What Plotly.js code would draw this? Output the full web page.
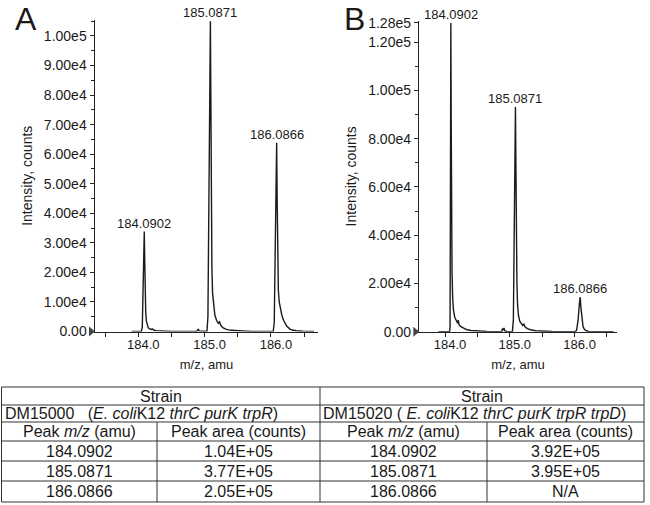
<!DOCTYPE html>
<html>
<head>
<meta charset="utf-8">
<script src="https://cdn.plot.ly/plotly-3.0.1.min.js"></script>
<style>html,body{margin:0;padding:0;background:#fff;}#chart{width:650px;height:505px;}</style>
</head>
<body>
<div id="chart"></div>
<script>
// ---------------- DATA ----------------
const peakMz = [184.0902, 185.0871, 186.0866];
const peakLabels = ['184.0902', '185.0871', '186.0866'];
const peakHeightA = [33800, 105000, 63900];
const peakHeightB = [128000, 93100, 14300];

// Panel A profile spectrum (m/z, intensity)
const mzA = [
  183.90, 184.045, 184.060, 184.072, 184.082, 184.0902, 184.097, 184.104, 184.112, 184.122,
  184.135, 184.150, 184.170, 184.195, 184.210, 184.230, 184.270, 184.350, 184.500, 184.700,
  184.880, 184.895, 184.905, 184.920, 184.990, 185.035, 185.050, 185.064, 185.077, 185.0871,
  185.094, 185.101, 185.110, 185.120, 185.135, 185.155, 185.180, 185.205, 185.225, 185.245,
  185.280, 185.330, 185.400, 185.500, 185.700, 185.900, 186.035, 186.050, 186.064, 186.077,
  186.0866, 186.094, 186.102, 186.112, 186.125, 186.140, 186.165, 186.190, 186.215, 186.240,
  186.260, 186.280, 186.320, 186.380, 186.480, 186.650
];
const intA = [
  0, 0, 1500, 12000, 26000, 33800, 24000, 13000, 6500, 3500,
  2000, 1300, 900, 700, 900, 500, 300, 150, 50, 0,
  0, 500, 700, 200, 0, 0, 5000, 40000, 85000, 105000,
  80000, 45000, 22000, 13000, 8500, 5500, 3800, 2800, 3300, 2000,
  1200, 700, 400, 200, 50, 0, 0, 3000, 25000, 52000,
  63900, 45000, 25000, 14000, 10000, 8000, 5500, 3800, 2600, 1800,
  1400, 900, 500, 250, 100, 0
];

// Panel B profile spectrum (m/z, intensity)
const mzB = [
  183.90, 184.070, 184.078, 184.081, 184.084, 184.0902, 184.095, 184.100, 184.108, 184.118,
  184.130, 184.150, 184.175, 184.195, 184.205, 184.215, 184.240, 184.280, 184.330, 184.400,
  184.500, 184.650, 184.800, 184.875, 184.885, 184.895, 184.910, 184.925, 184.960, 185.040,
  185.055, 185.068, 185.079, 185.0871, 185.094, 185.101, 185.110, 185.120, 185.135, 185.155,
  185.180, 185.200, 185.215, 185.235, 185.270, 185.320, 185.400, 185.500, 185.650, 185.850,
  186.000, 186.030, 186.055, 186.075, 186.0866, 186.098, 186.112, 186.130, 186.150, 186.180,
  186.220, 186.300, 186.600
];
const intB = [
  0, 0, 2000, 78500, 79000, 128000, 90000, 50000, 25000, 14000,
  9000, 6000, 4200, 3500, 4800, 3000, 2200, 1500, 900, 500,
  250, 100, 0, 0, 1300, 600, 1500, 300, 0, 0,
  5000, 40000, 75000, 93100, 70000, 40000, 20000, 11000, 6500, 4300,
  3000, 2600, 3300, 2000, 1300, 800, 400, 200, 80, 0,
  0, 500, 5000, 12000, 14300, 10000, 5000, 2200, 1000, 400,
  150, 0, 0
];

// Axis ticks
const xTickVals = [184, 185, 186];
const xTickText = ['184.0', '185.0', '186.0'];
const yTickValsA = [0, 10000, 20000, 30000, 40000, 50000, 60000, 70000, 80000, 90000, 100000];
const yTickTextA = ['0.00', '1.00e4', '2.00e4', '3.00e4', '4.00e4', '5.00e4', '6.00e4', '7.00e4', '8.00e4', '9.00e4', '1.00e5'];
const yTickValsB = [0, 20000, 40000, 60000, 80000, 100000, 120000, 128000];
const yTickTextB = ['0.00', '2.00e4', '4.00e4', '6.00e4', '8.00e4', '1.00e5', '1.20e5', '1.28e5'];

// Table
const tableStrainHeader = 'Strain';
const tableStrainA = 'DM15000\u00a0\u00a0\u00a0(<i>E. coli</i>K12 <i>thrC purK trpR</i>)';
const tableStrainB = 'DM15020 ( <i>E. coli</i>K12 <i>thrC purK trpR trpD</i>)';
const tableColHeaders = ['Peak <i>m/z</i> (amu)', 'Peak area (counts)'];
const tablePeakMz = ['184.0902', '185.0871', '186.0866'];
const tableAreaA = ['1.04E+05', '3.77E+05', '2.05E+05'];
const tableAreaB = ['3.92E+05', '3.95E+05', 'N/A'];

// ---------------- LAYOUT HELPERS ----------------
const W = 650, H = 505;
const px = x => x / W;
const py = y => 1 - y / H;
const FONT = 'Liberation Sans, Arial, Helvetica, sans-serif';
const INK = '#1a1a1a';

const xRangeA = [183.347, 186.71];
const xRangeB = [183.603, 186.65];

const traces = [
  {x: mzA, y: intA, type: 'scatter', mode: 'lines', line: {color: INK, width: 1.4}, xaxis: 'x', yaxis: 'y', hoverinfo: 'skip'},
  {x: mzB, y: intB, type: 'scatter', mode: 'lines', line: {color: INK, width: 1.4}, xaxis: 'x2', yaxis: 'y2', hoverinfo: 'skip'}
];

function xAxis(domain, range, anchor) {
  return {
    domain: domain, range: range, anchor: anchor,
    showline: true, linecolor: '#222', linewidth: 1.5, mirror: false,
    showgrid: false, zeroline: false,
    ticks: 'outside', ticklen: 4, tickwidth: 1, tickcolor: '#222',
    tickmode: 'array', tickvals: xTickVals, ticktext: xTickText,
    ticklabelshift: 5, ticklabelstandoff: -4,
    tickfont: {family: FONT, size: 13, color: INK},
    minor: {tickmode: 'linear', tick0: 184, dtick: 0.5, ticks: 'outside', ticklen: 4, tickcolor: '#222', showgrid: false},
    title: {text: 'm/z, amu', font: {family: FONT, size: 13, color: INK}, standoff: 9}
  };
}
function yAxis(domain, range, anchor, vals, texts, minorDtick) {
  return {
    domain: domain, range: range, anchor: anchor,
    showline: true, linecolor: '#222', linewidth: 1.5,
    showgrid: false, zeroline: false,
    ticks: 'outside', ticklen: 4, tickwidth: 1, tickcolor: '#222',
    tickmode: 'array', tickvals: vals, ticktext: texts,
    tickfont: {family: FONT, size: 14, color: INK},
    minor: {tickmode: 'linear', tick0: 0, dtick: minorDtick, ticks: 'outside', ticklen: 2.5, tickcolor: '#222', showgrid: false},
    title: {text: 'Intensity, counts', font: {family: FONT, size: 14, color: INK}, standoff: 8}
  };
}

const annotations = [];
// peak labels
peakMz.forEach((m, i) => {
  annotations.push({x: m, y: peakHeightA[i], xref: 'x', yref: 'y', text: peakLabels[i], showarrow: false,
    yanchor: 'bottom', xanchor: 'center', font: {family: FONT, size: 13, color: INK}, borderpad: 0});
  annotations.push({x: m, y: peakHeightB[i], xref: 'x2', yref: 'y2', text: peakLabels[i], showarrow: false,
    yanchor: 'bottom', xanchor: 'center', font: {family: FONT, size: 13, color: INK}, borderpad: 0});
});
// panel letters
annotations.push({x: px(26), y: 1, xref: 'paper', yref: 'paper', text: 'A', showarrow: false,
  font: {family: FONT, size: 32, color: INK}, xanchor: 'center', yanchor: 'top', borderpad: 0});
annotations.push({x: px(355), y: 1, xref: 'paper', yref: 'paper', text: 'B', showarrow: false,
  font: {family: FONT, size: 32, color: INK}, xanchor: 'center', yanchor: 'top', borderpad: 0});

// ---------------- TABLE ----------------
const colX = [1.5, 157, 320, 487, 644];     // vertical borders (px)
const rowY = [387, 405, 422, 441, 461, 481, 502]; // horizontal borders (px)
const TF = {family: FONT, size: 16, color: INK};
const shapes = [];
const lineStyle = {color: '#333', width: 1};
rowY.forEach(y => shapes.push({type: 'line', xref: 'paper', yref: 'paper', x0: px(colX[0]), x1: px(colX[4]), y0: py(y), y1: py(y), line: lineStyle}));
[colX[0], colX[2], colX[4]].forEach(x => shapes.push({type: 'line', xref: 'paper', yref: 'paper', x0: px(x), x1: px(x), y0: py(rowY[0]), y1: py(rowY[6]), line: lineStyle}));
[colX[1], colX[3]].forEach(x => shapes.push({type: 'line', xref: 'paper', yref: 'paper', x0: px(x), x1: px(x), y0: py(rowY[2]), y1: py(rowY[6]), line: lineStyle}));

function cell(text, x, y, anchor) {
  annotations.push({x: px(x), y: py(y), xref: 'paper', yref: 'paper', text: text, showarrow: false,
    xanchor: anchor || 'center', yanchor: 'middle', font: TF});
}
const mid = i => (rowY[i] + rowY[i + 1]) / 2;
cell(tableStrainHeader, (colX[0] + colX[2]) / 2, mid(0));
cell(tableStrainHeader, (colX[2] + colX[4]) / 2, mid(0));
cell(tableStrainA, colX[0] + 1, mid(1), 'left');
cell(tableStrainB, colX[2] + 1, mid(1), 'left');
cell(tableColHeaders[0], (colX[0] + colX[1]) / 2, mid(2));
cell(tableColHeaders[1], (colX[1] + colX[2]) / 2, mid(2));
cell(tableColHeaders[0], (colX[2] + colX[3]) / 2, mid(2));
cell(tableColHeaders[1], (colX[3] + colX[4]) / 2, mid(2));
tablePeakMz.forEach((m, i) => {
  cell(m, (colX[0] + colX[1]) / 2, mid(3 + i));
  cell(tableAreaA[i], (colX[1] + colX[2]) / 2, mid(3 + i));
  cell(m, (colX[2] + colX[3]) / 2, mid(3 + i));
  cell(tableAreaB[i], (colX[3] + colX[4]) / 2, mid(3 + i));
});

// zero markers (triangles) at the y=0 of each panel (paper shapes are not clipped)
shapes.push({type: 'path', xref: 'paper', yref: 'paper', xsizemode: 'pixel', ysizemode: 'pixel',
  xanchor: px(95), yanchor: py(331.5), path: 'M -6,-5 L 0,0 L -6,5 Z', fillcolor: '#444', line: {width: 0}, layer: 'above'});
shapes.push({type: 'path', xref: 'paper', yref: 'paper', xsizemode: 'pixel', ysizemode: 'pixel',
  xanchor: px(419.3), yanchor: py(331.7), path: 'M -6,-5 L 0,0 L -6,5 Z', fillcolor: '#444', line: {width: 0}, layer: 'above'});

const layout = {
  width: W, height: H,
  margin: {l: 0, r: 0, t: 0, b: 0},
  paper_bgcolor: '#fff', plot_bgcolor: '#fff',
  showlegend: false,
  font: {family: FONT, color: INK},
  xaxis: xAxis([px(95), px(318)], xRangeA, 'y'),
  yaxis: yAxis([py(331.5), py(20)], [0, 105400], 'x', yTickValsA, yTickTextA, 5000),
  xaxis2: xAxis([px(419.3), px(616.7)], xRangeB, 'y2'),
  yaxis2: yAxis([py(331.7), py(21)], [0, 128800], 'x2', yTickValsB, yTickTextB, 10000),
  annotations: annotations,
  shapes: shapes
};

Plotly.newPlot('chart', traces, layout, {displayModeBar: false, staticPlot: true});
</script>
</body>
</html>
